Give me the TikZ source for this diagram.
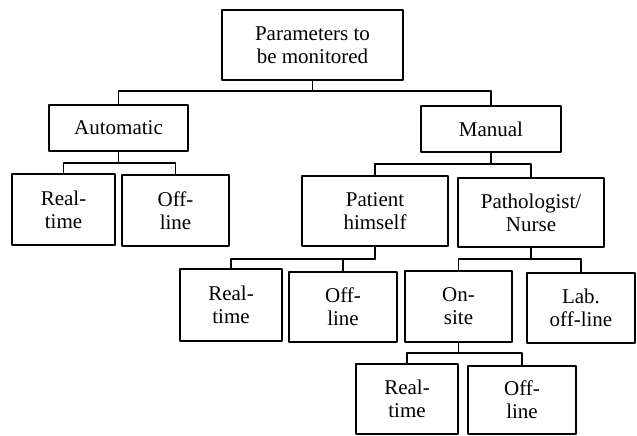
\documentclass[tikz,border=0pt]{standalone}
\usepackage{fontspec}
\setmainfont{Liberation Serif}
\usetikzlibrary{calc}

\begin{document}
\begin{tikzpicture}[x=1pt,y=-1pt,line cap=round,line join=round,
  box/.style={draw,line width=1.9pt,rectangle,align=center,inner sep=0pt,
    font=\fontsize{21}{23}\selectfont},
  conn/.style={line width=1.5pt}]
\useasboundingbox (0,0) rectangle (637,436);
\node[box,minimum width=181pt,minimum height=70pt] (top) at (312.5,45) {Parameters to\\be monitored};
\node[box,minimum width=139pt,minimum height=46pt] (auto) at (118.5,128) {Automatic};
\node[box,minimum width=140pt,minimum height=46pt] (manual) at (491,129) {Manual};
\node[box,minimum width=103pt,minimum height=71pt] (autoreal) at (63.5,209.5) {Real-\\time};
\node[box,minimum width=107pt,minimum height=71pt] (autooff) at (175.5,210.5) {Off-\\line};
\node[box,minimum width=146pt,minimum height=70pt] (patient) at (375,211) {Patient\\himself};
\node[box,minimum width=146pt,minimum height=69pt] (patho) at (531,212.5) {Pathologist/\\Nurse};
\node[box,minimum width=102pt,minimum height=72pt] (patreal) at (231,305) {Real-\\time};
\node[box,minimum width=108pt,minimum height=70pt] (patoff) at (343,307) {Off-\\line};
\node[box,minimum width=107pt,minimum height=71pt] (onsite) at (458.5,306.5) {On-\\site};
\node[box,minimum width=108pt,minimum height=70pt] (lab) at (581,308) {Lab.\\off-line};
\node[box,minimum width=102pt,minimum height=70pt] (onreal) at (407,399) {Real-\\time};
\node[box,minimum width=108pt,minimum height=68pt] (onoff) at (522,400) {Off-\\line};
\draw[conn] (top.south) -- ++(0,10) -| (auto.north);
\draw[conn] (top.south) -- ++(0,10) -| (manual.north);
\draw[conn] (auto.south) -- ++(0,11) -| (autoreal.north);
\draw[conn] (auto.south) -- ++(0,11) -| (autooff.north);
\draw[conn] (manual.south) -- ++(0,11) -| (patient.north);
\draw[conn] (manual.south) -- ++(0,11) -| (patho.north);
\draw[conn] (patient.south) -- ++(0,12) -| (patreal.north);
\draw[conn] (patient.south) -- ++(0,12) -| (patoff.north);
\draw[conn] (patho.south) -- ++(0,11) -| (onsite.north);
\draw[conn] (patho.south) -- ++(0,11) -| (lab.north);
\draw[conn] (onsite.south) -- ++(0,10) -| (onreal.north);
\draw[conn] (onsite.south) -- ++(0,10) -| (onoff.north);
\end{tikzpicture}
\end{document}
